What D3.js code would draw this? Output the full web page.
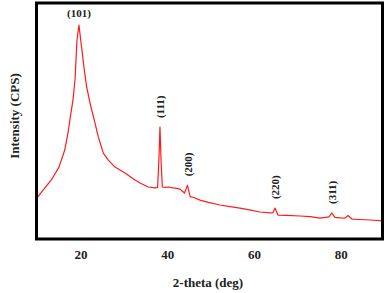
<!DOCTYPE html>
<html>
<head>
<meta charset="utf-8">
<script src="https://cdn.jsdelivr.net/npm/d3@7"></script>
<style>
  body { margin: 0; background: #fff; }
  text { font-family: "Liberation Serif", "Times New Roman", serif; font-weight: bold; fill: #222; }
</style>
</head>
<body>
<svg id="chart"></svg>
<script>
// XRD pattern
var twoTheta = [10, 11.4, 13.3, 15.07, 16.39, 17.15, 17.68, 18.3, 18.76, 18.99, 19.22, 19.68,
  20.07, 20.44, 20.9, 21.46, 22.22, 23.21, 24.13, 25.29, 26.44, 27.98, 30.29, 32.59,
  33.75, 35.66, 37.2, 37.8, 38.1, 38.35, 38.6, 38.9, 39.5, 40.3, 41.35, 42.2,
  42.97, 44.0, 44.7, 45.3, 46.3, 47.58, 49.5, 52.19, 54.5, 56.8, 59.0, 61.41, 63.72,
  64.4, 64.87, 65.56, 67.5, 70.63, 73.0, 75.24, 77.32, 77.94, 78.7, 80.0, 81.0, 81.7,
  82.62, 84.5, 86.77, 89.77];
var intensity = [171, 205, 248, 303, 376, 449, 517, 590, 675, 761, 846, 910,
  846, 791, 718, 645, 577, 504, 432, 363, 333, 303, 278, 248,
  235, 218, 214, 216, 330, 474, 330, 218, 216, 218, 214, 212,
  209, 192, 225, 177, 172, 162, 152, 141, 134, 128, 120, 111, 107,
  108, 128, 98, 97, 94, 91, 85, 90, 107, 88, 86, 85, 96,
  81, 79, 77, 73];

var peakNames = ["(101)", "(111)", "(200)", "(220)", "(311)"];
var peakAngles = [19.68, 38.35, 44.7, 64.87, 77.94];

var xTicks = [20, 40, 60, 80];

var W = 387, H = 293;
var frameLeft = 35, frameRight = 384, frameTop = 3, frameBottom = 239;

var svg = d3.select("#chart").attr("width", W).attr("height", H);

var xScale = d3.scaleLinear().domain([10, 90]).range([37, 384]);
var yScale = d3.scaleLinear().domain([0, 1000]).range([238, 4]);

// curve
var line = d3.line()
  .x(function (d, i) { return xScale(twoTheta[i]); })
  .y(function (d) { return yScale(d); });

svg.append("path")
  .datum(intensity)
  .attr("fill", "none")
  .attr("stroke", "#ff1a1a")
  .attr("stroke-width", 1.2)
  .attr("stroke-linejoin", "round")
  .attr("d", line);

// frame
svg.append("rect")
  .attr("x", frameLeft + 1.5)
  .attr("y", frameTop)
  .attr("width", frameRight - frameLeft - 3)
  .attr("height", frameBottom - frameTop)
  .attr("fill", "none")
  .attr("stroke", "#000")
  .attr("stroke-width", 3);

// x tick labels (no tick marks)
var xAxis = d3.axisBottom(xScale).tickValues(xTicks).tickSize(0).tickPadding(10)
  .tickFormat(d3.format("d"));
var gx = svg.append("g")
  .attr("transform", "translate(0," + (frameBottom + 1) + ")")
  .call(xAxis);
gx.select(".domain").remove();
gx.selectAll("text")
  .style("font-family", "'Liberation Serif', serif")
  .style("font-weight", "bold")
  .style("font-size", "13px")
  .attr("fill", "#222");

// axis titles
svg.append("text")
  .attr("x", 208)
  .attr("y", 287)
  .attr("text-anchor", "middle")
  .style("font-size", "13px")
  .text("2-theta (deg)");

svg.append("text")
  .attr("transform", "translate(19,116) rotate(-90)")
  .attr("text-anchor", "middle")
  .style("font-size", "13px")
  .text("Intensity (CPS)");

// peak labels
function peakHeight(a) {
  var best = 0;
  twoTheta.forEach(function (t, i) {
    if (Math.abs(t - a) < 0.5 && intensity[i] > best) best = intensity[i];
  });
  return best;
}

peakNames.forEach(function (name, k) {
  var px = xScale(peakAngles[k]);
  var py = yScale(peakHeight(peakAngles[k]));
  if (k === 0) {
    svg.append("text")
      .attr("x", px)
      .attr("y", py - 8)
      .attr("text-anchor", "middle")
      .style("font-size", "11px")
      .text(name);
  } else {
    svg.append("text")
      .attr("transform", "translate(" + (px + 4) + "," + (py - 9) + ") rotate(-90)")
      .attr("text-anchor", "start")
      .style("font-size", "11px")
      .text(name);
  }
});
</script>
</body>
</html>
